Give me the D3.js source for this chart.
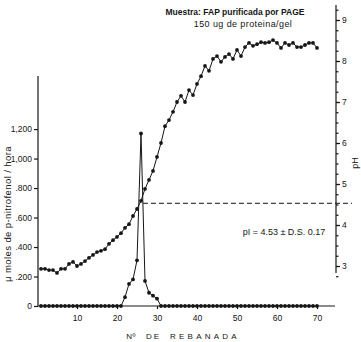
<!DOCTYPE html>
<html>
<head>
<meta charset="utf-8">
<script src="https://cdn.jsdelivr.net/npm/d3@7"></script>
<style>
  body { margin: 0; background: #fff; }
  svg { font-family: "Liberation Sans", Arial, sans-serif; }
</style>
</head>
<body>
<svg id="chart" width="361" height="342"></svg>
<script>
// numero de rebanada (1..70)
const rebanadas = d3.range(1, 71);

// pH medido en cada rebanada
const phValores = [
  2.93, 2.93, 2.90, 2.90, 2.83, 2.93, 2.93, 3.05, 3.10, 3.00,
  3.05, 3.12, 3.20, 3.27, 3.34, 3.37, 3.41, 3.54, 3.63, 3.71,
  3.80, 3.93, 4.02, 4.22, 4.39, 4.59, 4.88, 5.10, 5.32, 5.66,
  6.00, 6.41, 6.56, 6.76, 7.00, 7.15, 7.00, 7.29, 7.17, 7.44,
  7.63, 7.88, 7.76, 8.05, 8.12, 7.98, 8.10, 8.17, 8.05, 8.27,
  8.12, 8.34, 8.44, 8.37, 8.41, 8.46, 8.44, 8.46, 8.51, 8.44,
  8.32, 8.44, 8.39, 8.44, 8.34, 8.34, 8.39, 8.44, 8.44, 8.32
];

// actividad (umoles p-nitrofenol / hora)
const actividad = [
  0, 0, 0, 0, 0, 0, 0, 0, 0, 0,
  0, 0, 0, 0, 0, 0, 0, 0, 0, 0,
  0, 0.06, 0.15, 0.18, 0.31, 1.17, 0.17, 0.09, 0.07, 0.05,
  0, 0, 0, 0, 0, 0, 0, 0, 0, 0,
  0, 0, 0, 0, 0, 0, 0, 0, 0, 0,
  0, 0, 0, 0, 0, 0, 0, 0, 0, 0,
  0, 0, 0, 0, 0, 0, 0, 0, 0, 0
];

const ticksX = [10, 20, 30, 40, 50, 60, 70];
const ticksAct = [0, 0.2, 0.4, 0.6, 0.8, 1.0, 1.2];
const etiquetasAct = ["0", ".200", ".400", ".600", ".800", "1,000", "1,200"];
const ticksPh = [3, 4, 5, 6, 7, 8, 9];
const pI = 4.53;

const svg = d3.select("#chart");
const tinta = "#161616";

// escalas
const x = d3.scaleLinear().domain([0, 74.5]).range([37, 335]);
const yAct = d3.scaleLinear().domain([0, 1.56]).range([306, 76]);
const yPh = d3.scaleLinear().domain([2.8, 9.4]).range([274.2, 3.6]);

// eje X
const ejeX = svg.append("g")
    .attr("transform", "translate(0,306)")
    .call(d3.axisBottom(x).tickValues(ticksX).tickSize(3).tickPadding(6));
ejeX.select(".domain").attr("d", "M38,0H335");

// eje izquierdo
const ejeIzq = svg.append("g")
    .attr("transform", "translate(38,0)")
    .call(d3.axisLeft(yAct).tickValues(ticksAct).tickSize(4).tickPadding(2)
        .tickFormat((d, i) => etiquetasAct[i]));
ejeIzq.select(".domain").attr("d", "M0,306V76");

// eje derecho (pH), con marcas menores
const ejeDer = svg.append("g")
    .attr("transform", "translate(336,0)")
    .call(d3.axisRight(yPh).tickValues(d3.range(2.75, 9.3, 0.25)).tickSize(2.5)
        .tickFormat(""));
ejeDer.select(".domain").attr("d", "M0,273V5");
const ejeDer2 = svg.append("g")
    .attr("transform", "translate(336,0)")
    .call(d3.axisRight(yPh).tickValues(ticksPh).tickSize(4).tickPadding(2)
        .tickFormat(d3.format("d")));
ejeDer2.select(".domain").remove();

svg.selectAll(".tick text").attr("font-size", 8.5).attr("fill", tinta);
svg.selectAll(".domain, .tick line").attr("stroke", tinta).attr("stroke-width", 1.2);

// linea punteada del pI
svg.append("line")
    .attr("x1", 143).attr("x2", 352)
    .attr("y1", yPh(pI)).attr("y2", yPh(pI))
    .attr("stroke", tinta).attr("stroke-width", 1)
    .attr("stroke-dasharray", "5,3");

// curva de pH
const lineaPh = d3.line().x((d, i) => x(rebanadas[i])).y(d => yPh(d));
svg.append("path")
    .datum(phValores)
    .attr("d", lineaPh)
    .attr("fill", "none").attr("stroke", tinta).attr("stroke-width", 1);
svg.append("g").selectAll("circle")
    .data(phValores)
    .enter().append("circle")
    .attr("cx", (d, i) => x(rebanadas[i]))
    .attr("cy", d => yPh(d))
    .attr("r", 1.9)
    .attr("fill", tinta);

// curva de actividad
const lineaAct = d3.line().x((d, i) => x(rebanadas[i])).y(d => yAct(d));
svg.append("path")
    .datum(actividad)
    .attr("d", lineaAct)
    .attr("fill", "none").attr("stroke", tinta).attr("stroke-width", 1);
svg.append("g").selectAll("circle")
    .data(actividad)
    .enter().append("circle")
    .attr("cx", (d, i) => x(rebanadas[i]))
    .attr("cy", d => yAct(d))
    .attr("r", 1.9)
    .attr("fill", tinta);

// textos
svg.append("text")
    .attr("x", 235).attr("y", 15)
    .attr("text-anchor", "middle")
    .attr("font-size", 8.5).attr("font-weight", "bold").attr("fill", tinta)
    .text("Muestra: FAP purificada por PAGE");
svg.append("text")
    .attr("x", 243).attr("y", 27)
    .attr("text-anchor", "middle")
    .attr("font-size", 9).attr("fill", tinta)
    .attr("letter-spacing", 0.4)
    .text("150 ug de proteina/gel");

svg.append("text")
    .attr("x", 284).attr("y", 235)
    .attr("text-anchor", "middle")
    .attr("font-size", 9).attr("fill", tinta)
    .text("pI = 4.53 ± D.S. 0.17");

svg.append("text")
    .attr("transform", "translate(11,214) rotate(-90)")
    .attr("text-anchor", "middle")
    .attr("font-size", 9.5).attr("fill", tinta)
    .attr("letter-spacing", 0.4)
    .text("μ moles de p-nitrofenol / hora");

svg.append("text")
    .attr("transform", "translate(358,163) rotate(-90)")
    .attr("text-anchor", "middle")
    .attr("font-size", 9).attr("fill", tinta)
    .text("pH");

const titX = svg.append("text")
    .attr("x", 183).attr("y", 339)
    .attr("text-anchor", "middle")
    .attr("font-size", 8).attr("fill", tinta);
titX.append("tspan").attr("letter-spacing", 0.5).text("Nº");
titX.append("tspan").attr("dx", 10).attr("letter-spacing", 2).text("DE");
titX.append("tspan").attr("dx", 9).attr("letter-spacing", 3.2).text("REBANADA");
</script>
</body>
</html>
